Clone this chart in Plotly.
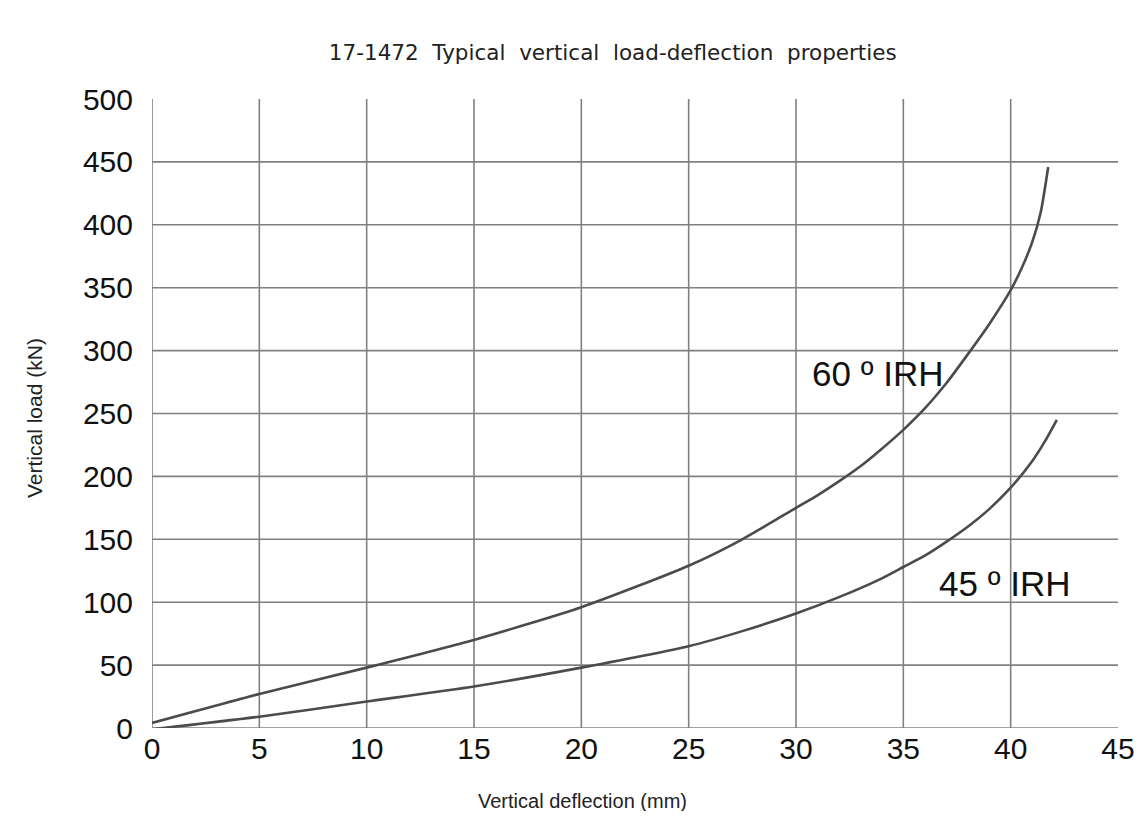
import plotly.graph_objects as go

# ---- data ----
deflection_60 = [0, 5, 10, 15, 20, 25, 27.5, 30, 31, 32, 33, 34, 35, 36, 37, 38, 39, 40, 40.5, 41, 41.4, 41.75]
load_60 = [4, 27, 48, 70, 96, 129, 150, 175, 185, 196, 208, 222, 237, 254, 274, 297, 321, 348, 365, 386, 410, 446]

deflection_45 = [0, 5, 10, 15, 20, 25, 27.5, 30, 32, 34, 35, 36, 37, 38, 39, 40, 41, 41.6, 42.15]
load_45 = [-1, 9, 21, 33, 48, 65, 77, 91, 104, 119, 128, 137, 148, 160, 174, 191, 212, 228, 245]

x_ticks = [0, 5, 10, 15, 20, 25, 30, 35, 40, 45]
y_ticks = [0, 50, 100, 150, 200, 250, 300, 350, 400, 450, 500]

label_60 = "60 º IRH"
label_45 = "45 º IRH"
label_60_pos = (33.8, 282)
label_45_pos = (39.7, 115)

title = "17-1472\u00a0 Typical\u00a0 vertical\u00a0 load-deflection\u00a0 properties"
x_title = "Vertical deflection (mm)"
y_title = "Vertical load (kN)"

GRID = "#808080"
CURVE = "#4b4b4b"
FONT = "Liberation Sans, Arial, sans-serif"

fig = go.Figure()
fig.add_trace(go.Scatter(x=deflection_60, y=load_60, mode="lines",
                         line=dict(color=CURVE, width=2.6, shape="spline", smoothing=0.6),
                         hoverinfo="skip", showlegend=False))
fig.add_trace(go.Scatter(x=deflection_45, y=load_45, mode="lines",
                         line=dict(color=CURVE, width=2.6, shape="spline", smoothing=0.6),
                         hoverinfo="skip", showlegend=False))

shapes = []
# vertical grid lines (not at the last tick)
for xv in x_ticks[:-1]:
    shapes.append(dict(type="line", xref="x", yref="y", x0=xv, x1=xv,
                       y0=y_ticks[0], y1=y_ticks[-1], layer="below",
                       line=dict(color=GRID, width=1.6)))
# horizontal grid lines (not at the last tick)
for yv in y_ticks[:-1]:
    shapes.append(dict(type="line", xref="x", yref="y", x0=x_ticks[0], x1=x_ticks[-1],
                       y0=yv, y1=yv, layer="below",
                       line=dict(color=GRID, width=1.6)))

annotations = [
    dict(x=label_60_pos[0], y=label_60_pos[1], xref="x", yref="y", text=label_60,
         showarrow=False, font=dict(family=FONT, size=35, color="#111111")),
    dict(x=label_45_pos[0], y=label_45_pos[1], xref="x", yref="y", text=label_45,
         showarrow=False, font=dict(family=FONT, size=35, color="#111111")),
    dict(x=0.446, y=-0.116, xref="paper", yref="paper", text=x_title, showarrow=False,
         xanchor="center", yanchor="middle",
         font=dict(family=FONT, size=20, color="#222222")),
    dict(x=-0.121, y=0.493, xref="paper", yref="paper", text=y_title, showarrow=False,
         textangle=-90, xanchor="center", yanchor="middle",
         font=dict(family=FONT, size=21, color="#222222")),
]

fig.update_layout(
    width=1128, height=803,
    margin=dict(l=144, r=18, t=91, b=83),
    paper_bgcolor="white", plot_bgcolor="white",
    title=dict(text=title, x=0.477, xref="paper", xanchor="center",
               y=1 - 44 / 803, yref="container", yanchor="middle",
               font=dict(family="DejaVu Sans, sans-serif", size=21.5, color="#222222")),
    shapes=shapes, annotations=annotations,
    xaxis=dict(range=[x_ticks[0], x_ticks[-1]], tickvals=x_ticks, showgrid=False,
               zeroline=False, showline=False, ticks="", automargin=False,
               tickfont=dict(family=FONT, size=30, color="#111111")),
    yaxis=dict(range=[y_ticks[0], y_ticks[-1]], tickvals=y_ticks, showgrid=False,
               zeroline=False, showline=False, ticks="outside", ticklen=12,
               tickcolor="rgba(0,0,0,0)", automargin=False,
               tickfont=dict(family=FONT, size=30, color="#111111")),
)

fig.write_html("out.html")
